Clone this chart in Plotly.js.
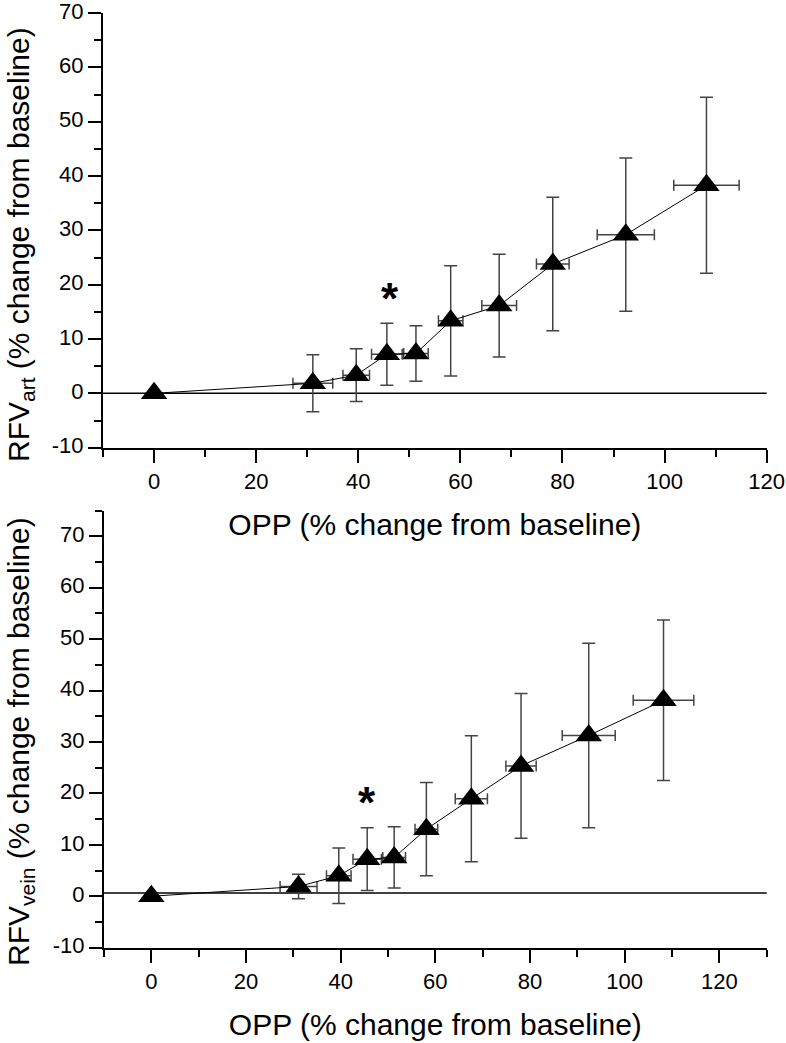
<!DOCTYPE html>
<html>
<head>
<meta charset="utf-8">
<script src="https://cdn.plot.ly/plotly-3.0.1.min.js"></script>
<style>
  html, body { margin: 0; padding: 0; background: #fff; }
  #chart { width: 786px; height: 1043px; }
</style>
</head>
<body>
<div id="chart"></div>
<script>
// OPP (% change from baseline), shared by both panels
const oppX = [0, 31.1, 39.6, 45.6, 51.3, 58.1, 67.6, 78.1, 92.4, 108.2];
const oppErr = [0, 3.9, 2.6, 3.0, 2.4, 2.4, 3.4, 3.2, 5.6, 6.4];

// RFV artery (% change from baseline)
const rfvArt = [0, 1.85, 3.35, 7.2, 7.35, 13.35, 16.15, 23.8, 29.2, 38.3];
const rfvArtErr = [0, 5.25, 4.85, 5.7, 5.1, 10.15, 9.45, 12.3, 14.1, 16.2];

// RFV vein (% change from baseline)
const rfvVein = [0, 1.9, 4.0, 7.2, 7.55, 13.05, 18.95, 25.35, 31.25, 38.1];
const rfvVeinErr = [0, 2.4, 5.4, 6.1, 5.95, 9.05, 12.25, 14.05, 17.95, 15.6];

// tick labels (plain hyphen minus, as in the original figure)
const xTicks = [0, 20, 40, 60, 80, 100, 120];
const xTickText = ['0', '20', '40', '60', '80', '100', '120'];
const yTicks = [-10, 0, 10, 20, 30, 40, 50, 60, 70];
const yTickText = ['-10', '0', '10', '20', '30', '40', '50', '60', '70'];

// significance markers
const starArt = { x: 46.2, y: 18.9 };
const starVein = { x: 45.6, y: 19.7 };

const W = 786, H = 1043;
const FONT = 'Liberation Sans, Arial, sans-serif';

function series(y, yErr, xa, ya) {
    return {
        type: 'scatter',
        mode: 'lines+markers',
        x: oppX,
        y: y,
        xaxis: xa,
        yaxis: ya,
        line: { color: '#000', width: 1 },
        marker: { symbol: 'triangle-up', size: 23, color: '#000' },
        error_y: { type: 'data', array: yErr, visible: true, color: '#444', thickness: 1.5, width: 6.5 },
        error_x: { type: 'data', array: oppErr, visible: true, color: '#444', thickness: 1.5, width: 5.5 },
        showlegend: false,
        hoverinfo: 'x+y'
    };
}

function xAxis(range, dom, anchor) {
    return {
        domain: dom,
        anchor: anchor,
        range: range,
        tickmode: 'array',
        tickvals: xTicks,
        ticktext: xTickText,
        ticks: 'outside',
        ticklen: 13,
        tickwidth: 2,
        tickcolor: '#000',
        minor: { tick0: 0, dtick: 10, ticks: 'outside', ticklen: 7, tickwidth: 2, tickcolor: '#000' },
        showline: true,
        linewidth: 2,
        linecolor: '#000',
        showgrid: false,
        zeroline: false,
        ticklabeloverflow: 'allow',
        tickfont: { size: 22, color: '#000', family: FONT },
        title: { text: 'OPP (% change from baseline)', font: { size: 30, color: '#000', family: FONT }, standoff: 21 }
    };
}

function yAxis(range, dom, anchor) {
    return {
        domain: dom,
        anchor: anchor,
        range: range,
        tickmode: 'array',
        tickvals: yTicks,
        ticktext: yTickText,
        ticks: 'outside',
        ticklen: 13,
        tickwidth: 2,
        tickcolor: '#000',
        minor: { tick0: 0, dtick: 5, ticks: 'outside', ticklen: 7, tickwidth: 2, tickcolor: '#000' },
        showline: true,
        linewidth: 2,
        linecolor: '#000',
        showgrid: false,
        zeroline: false,
        ticklabeloverflow: 'allow',
        ticklabelshift: -2,
        tickfont: { size: 22, color: '#000', family: FONT }
    };
}

// rotated y titles as paper annotations, so they can sit close to the page edge
function yTitle(text, yCenterPx) {
    return {
        xref: 'paper', yref: 'paper',
        x: 20 / W, y: (H - yCenterPx) / H,
        xanchor: 'center', yanchor: 'middle',
        textangle: -90,
        text: text,
        showarrow: false,
        font: { size: 30, color: '#000', family: FONT }
    };
}

const data = [
    series(rfvArt, rfvArtErr, 'x', 'y'),
    series(rfvVein, rfvVeinErr, 'x2', 'y2')
];

const layout = {
    width: W,
    height: H,
    margin: { l: 0, r: 0, t: 0, b: 0 },
    paper_bgcolor: '#fff',
    plot_bgcolor: '#fff',
    font: { family: FONT, color: '#000' },
    xaxis: xAxis([-10, 120], [103 / W, 766.7 / W], 'y'),
    yaxis: yAxis([-10, 70], [(H - 447.7) / H, (H - 13) / H], 'x'),
    xaxis2: xAxis([-10, 130], [104 / W, 766.7 / W], 'y2'),
    yaxis2: yAxis([-10, 75], [(H - 947.7) / H, (H - 510.5) / H], 'x2'),
    shapes: [
        { type: 'line', xref: 'x', yref: 'y', x0: -10, x1: 120.7, y0: 0, y1: 0, line: { color: '#000', width: 1.5 }, layer: 'below' },
        { type: 'line', xref: 'x2', yref: 'y2', x0: -10, x1: 131, y0: 0.65, y1: 0.65, line: { color: '#000', width: 1.5 }, layer: 'below' }
    ],
    annotations: [
        yTitle('RFV<sub>art</sub> (% change from baseline)', 245),
        yTitle('RFV<sub>vein</sub> (% change from baseline)', 742),
        { xref: 'x', yref: 'y', x: starArt.x, y: starArt.y, text: '<b>*</b>', showarrow: false, yshift: -8, font: { size: 44, color: '#000', family: FONT } },
        { xref: 'x2', yref: 'y2', x: starVein.x, y: starVein.y, text: '<b>*</b>', showarrow: false, yshift: -8, font: { size: 44, color: '#000', family: FONT } }
    ]
};

Plotly.newPlot('chart', data, layout, { displayModeBar: false, staticPlot: true });
</script>
</body>
</html>
